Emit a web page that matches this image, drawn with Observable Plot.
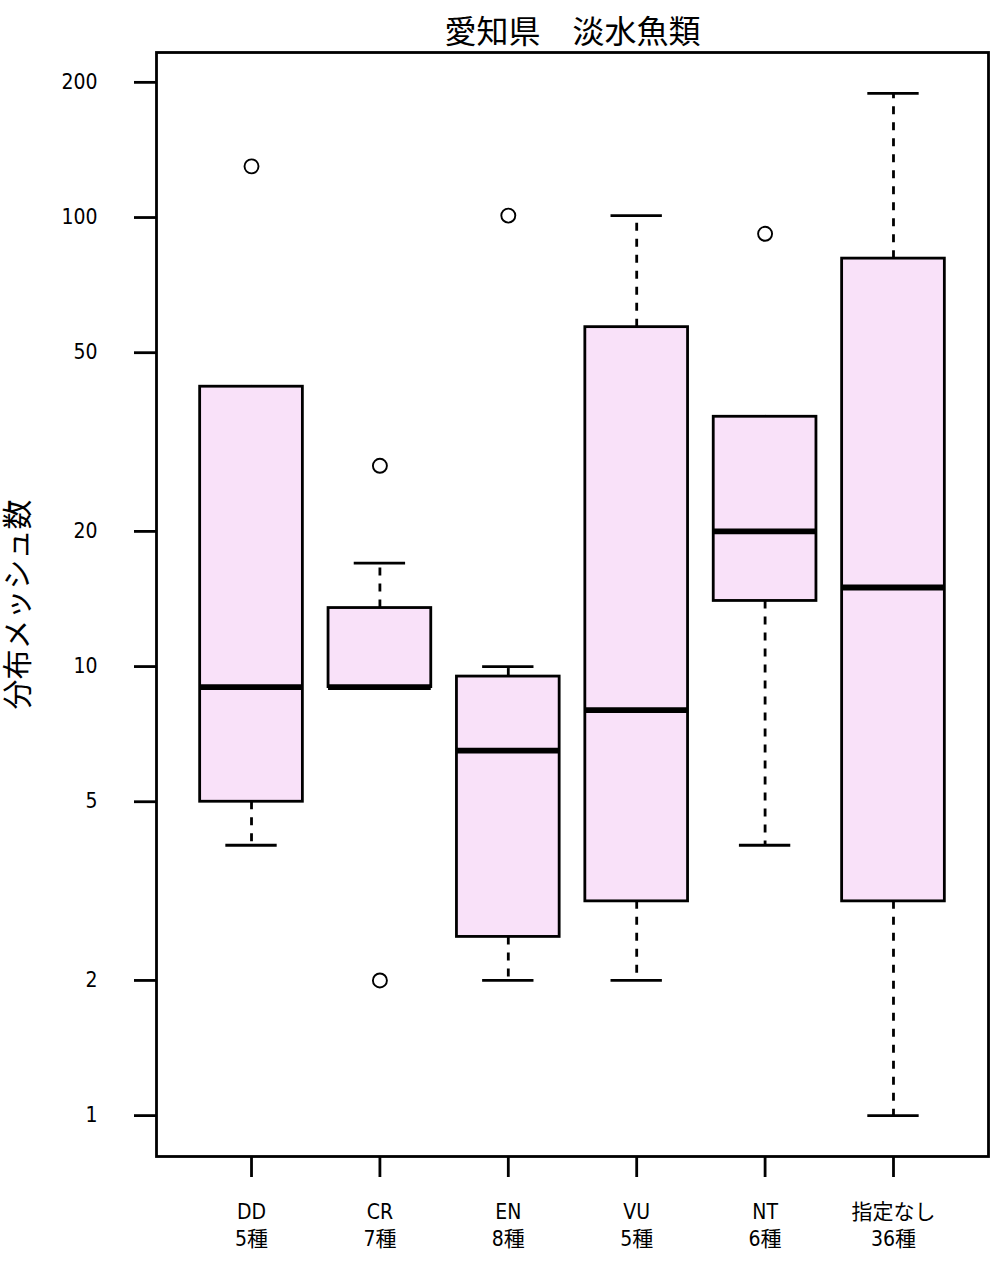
<!DOCTYPE html>
<html>
<head>
<meta charset="utf-8">
<script src="https://cdn.jsdelivr.net/npm/d3@7"></script>
<script src="https://cdn.jsdelivr.net/npm/@observablehq/plot@0.6"></script>
<style>
  html, body { margin: 0; padding: 0; background: #fff; }
</style>
</head>
<body>
<div id="chart"></div>
<script>
const title = "愛知県　淡水魚類";
const yLabel = "分布メッシュ数";
const categories = ["DD", "CR", "EN", "VU", "NT", "指定なし"];
const counts = ["5種", "7種", "8種", "5種", "6種", "36種"];
const whiskerLow = [4, 9, 2, 2, 4, 1];
const hingeLow = [5, 9, 2.5, 3, 14, 3];
const medians = [9, 9, 6.5, 8, 20, 15];
const hingeHigh = [42, 13.5, 9.5, 57, 36, 81];
const whiskerHigh = [42, 17, 10, 101, 36, 189];
const outlierGroup = ["DD", "CR", "CR", "EN", "NT"];
const outlierValue = [130, 28, 2, 101, 92];
const yTicks = [1, 2, 5, 10, 20, 50, 100, 200];

const rows = categories.map((c, k) => ({
  i: k + 1, cat: c, lo: whiskerLow[k], q1: hingeLow[k], med: medians[k], q3: hingeHigh[k], hi: whiskerHigh[k]
}));
const outliers = outlierGroup.map((g, k) => ({ i: categories.indexOf(g) + 1, v: outlierValue[k] }));

// R-style 4% axis extension
const n = categories.length;
const xExt = 0.04 * n;
const xDomain = [0.5 - xExt, n + 0.5 + xExt];
const allVals = [...whiskerLow, ...whiskerHigh, ...outlierValue];
const lmin = Math.log10(d3.min(allVals)), lmax = Math.log10(d3.max(allVals));
const yExt = 0.04 * (lmax - lmin);
const yDomain = [10 ** (lmin - yExt), 10 ** (lmax + yExt)];

const boxHalf = 0.4, capHalf = 0.2;
const lw = 2.8;

const chart = Plot.plot({
  width: 1002,
  height: 1264,
  marginTop: 52,
  marginLeft: 156,
  marginRight: 14,
  marginBottom: 108,
  style: { fontFamily: "'Liberation Sans Narrow', 'DejaVu Sans Condensed', 'Noto Sans CJK JP', sans-serif", background: "#fff", color: "#000" },
  x: { type: "linear", domain: xDomain, axis: null },
  y: { type: "log", domain: yDomain, axis: null },
  marks: [
    // whiskers (dashed)
    Plot.ruleX(rows, { x: "i", y1: "q3", y2: "hi", stroke: "black", strokeWidth: lw, strokeDasharray: "8,8" }),
    Plot.ruleX(rows, { x: "i", y1: "q1", y2: "lo", stroke: "black", strokeWidth: lw, strokeDasharray: "8,8" }),
    // caps
    Plot.ruleY(rows, { y: "hi", x1: d => d.i - capHalf, x2: d => d.i + capHalf, stroke: "black", strokeWidth: lw }),
    Plot.ruleY(rows, { y: "lo", x1: d => d.i - capHalf, x2: d => d.i + capHalf, stroke: "black", strokeWidth: lw }),
    // boxes
    Plot.rect(rows, { x1: d => d.i - boxHalf, x2: d => d.i + boxHalf, y1: "q1", y2: "q3", fill: "#f9e1f9", stroke: "black", strokeWidth: lw }),
    // medians
    Plot.ruleY(rows, { y: "med", x1: d => d.i - boxHalf, x2: d => d.i + boxHalf, stroke: "black", strokeWidth: 5.8 }),
    // outliers
    Plot.dot(outliers, { x: "i", y: "v", r: 7, stroke: "black", strokeWidth: 1.9, fill: "none" }),
    Plot.frame({ stroke: "black", strokeWidth: 2.8 }),
    // y axis ticks and labels
    Plot.axisY({ ticks: yTicks, text: null, tickSize: 22, strokeWidth: 2.8, label: null }),
    Plot.text(yTicks, { y: d => d, frameAnchor: "left", textAnchor: "end", dx: -59, text: d => String(d), fontSize: 21, fill: "black" }),
    // x axis
    Plot.axisX({ ticks: d3.range(1, n + 1), tickFormat: i => categories[i - 1] + "\n" + counts[i - 1], tickSize: 21, tickPadding: 22, fontSize: 21, lineHeight: 1.3, strokeWidth: 2.8, label: null }),
    Plot.text([title], { frameAnchor: "top", dy: -20, fontSize: 32, lineAnchor: "middle", textAnchor: "middle", fill: "black" }),
    Plot.text([yLabel], { frameAnchor: "left", dx: -138, rotate: -90, fontSize: 30, lineAnchor: "middle", textAnchor: "middle", fill: "black" })
  ]
});
document.getElementById("chart").appendChild(chart);
</script>
</body>
</html>
